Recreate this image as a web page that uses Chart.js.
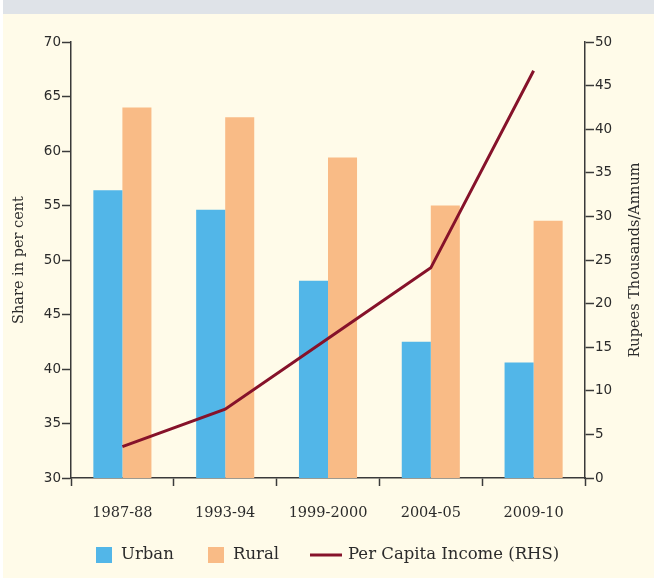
<!DOCTYPE html>
<html>
<head>
<meta charset="utf-8">
<script src="https://cdn.jsdelivr.net/npm/chart.js@4"></script>
<style>
  html, body { margin: 0; padding: 0; background: #ffffff; }
  #wrap { width: 654px; height: 578px; }
</style>
</head>
<body>
<div id="wrap"><canvas id="shareChart" width="654" height="578"></canvas></div>
<script>
// years of the survey rounds
const years = ['1987-88', '1993-94', '1999-2000', '2004-05', '2009-10'];
// share in per cent (left axis)
const urban = [56.4, 54.6, 48.1, 42.5, 40.6];
const rural = [64.0, 63.1, 59.4, 55.0, 53.6];
// per capita income, rupees thousands per annum (right axis)
const perCapita = [3.6, 7.9, 16.0, 24.1, 46.7];

const leftTicks = [30, 35, 40, 45, 50, 55, 60, 65, 70];
const rightTicks = [0, 5, 10, 15, 20, 25, 30, 35, 40, 45, 50];

const axisColor = '#3a3a3a';
const textColor = '#2b2b2b';
const serif = '"DejaVu Serif", serif';
const sans = '"DejaVu Sans", sans-serif';

// background, titles of the axes and the legend
const decor = {
    id: 'decor',
    beforeDraw(chart) {
        const c = chart.ctx;
        c.save();
        c.fillStyle = '#ffffff';
        c.fillRect(0, 0, chart.width, chart.height);
        c.fillStyle = '#fffbe9';
        c.fillRect(3, 0, chart.width - 3, chart.height);
        c.fillStyle = '#dfe3e8';
        c.fillRect(3, 0, chart.width - 3, 14);
        c.restore();
    },
    afterDraw(chart) {
        const c = chart.ctx;
        const area = chart.chartArea;
        const midY = (area.top + area.bottom) / 2;
        c.save();
        c.fillStyle = textColor;
        c.font = '14.5px ' + serif;
        c.textAlign = 'center';
        c.textBaseline = 'middle';
        c.save();
        c.translate(19, midY);
        c.rotate(-Math.PI / 2);
        c.fillText('Share in per cent', 0, 0);
        c.restore();
        c.save();
        c.translate(635, midY);
        c.rotate(-Math.PI / 2);
        c.fillText('Rupees Thousands/Annum', 0, 0);
        c.restore();

        // legend
        const ds = chart.data.datasets;
        const y = 555;
        c.font = '16.5px ' + serif;
        c.textAlign = 'left';
        c.fillStyle = ds[0].backgroundColor;
        c.fillRect(96, y - 8, 16, 16);
        c.fillStyle = textColor;
        c.fillText(ds[0].label, 121, y);
        c.fillStyle = ds[1].backgroundColor;
        c.fillRect(208, y - 8, 16, 16);
        c.fillStyle = textColor;
        c.fillText(ds[1].label, 233, y);
        c.strokeStyle = ds[2].borderColor;
        c.lineWidth = 3;
        c.beginPath();
        c.moveTo(310, y);
        c.lineTo(342, y);
        c.stroke();
        c.fillText(ds[2].label, 348, y);
        c.restore();
    }
};

new Chart(document.getElementById('shareChart'), {
    type: 'bar',
    data: {
        labels: years,
        datasets: [
            {
                label: 'Urban',
                data: urban,
                backgroundColor: '#52b6e8',
                yAxisID: 'y',
                order: 1
            },
            {
                label: 'Rural',
                data: rural,
                backgroundColor: '#f9bb86',
                yAxisID: 'y',
                order: 1
            },
            {
                type: 'line',
                label: 'Per Capita Income (RHS)',
                data: perCapita,
                borderColor: '#86122a',
                borderWidth: 3,
                pointRadius: 0,
                tension: 0,
                fill: false,
                yAxisID: 'y1',
                order: 0
            }
        ]
    },
    options: {
        responsive: false,
        animation: false,
        devicePixelRatio: 1,
        layout: { padding: { top: 42, bottom: 41, left: 0, right: 0 } },
        datasets: {
            bar: { categoryPercentage: 0.565, barPercentage: 1.0 }
        },
        plugins: {
            legend: { display: false },
            tooltip: { enabled: false },
            title: { display: false }
        },
        scales: {
            x: {
                offset: true,
                grid: {
                    offset: true,
                    drawOnChartArea: false,
                    drawTicks: true,
                    tickLength: 8,
                    tickWidth: 1.5,
                    tickColor: axisColor
                },
                border: { color: axisColor, width: 1.5 },
                ticks: {
                    color: textColor,
                    font: { family: serif, size: 14.5 },
                    padding: 19,
                    maxRotation: 0
                },
                afterFit(scale) { scale.height = 59; }
            },
            y: {
                position: 'left',
                min: 30,
                max: 70,
                afterBuildTicks(scale) { scale.ticks = leftTicks.map(v => ({ value: v })); },
                grid: {
                    drawOnChartArea: false,
                    tickLength: 9,
                    tickWidth: 1.5,
                    tickColor: axisColor
                },
                border: { color: axisColor, width: 1.5 },
                ticks: {
                    color: textColor,
                    font: { family: sans, size: 13.5 },
                    padding: 1
                },
                afterFit(scale) { scale.width = 71; }
            },
            y1: {
                position: 'right',
                min: 0,
                max: 50,
                afterBuildTicks(scale) { scale.ticks = rightTicks.map(v => ({ value: v })); },
                grid: {
                    drawOnChartArea: false,
                    tickLength: 9,
                    tickWidth: 1.5,
                    tickColor: axisColor
                },
                border: { color: axisColor, width: 1.5 },
                ticks: {
                    color: textColor,
                    font: { family: sans, size: 13.5 },
                    padding: 1
                },
                afterFit(scale) { scale.width = 69; }
            }
        }
    },
    plugins: [decor]
});
</script>
</body>
</html>
